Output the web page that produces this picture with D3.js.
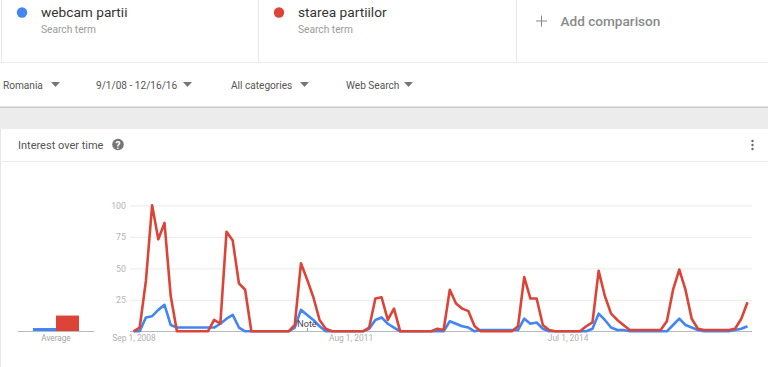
<!DOCTYPE html>
<html><head><meta charset="utf-8">
<script src="https://cdn.jsdelivr.net/npm/d3@7/dist/d3.min.js"></script>
<style>
html,body{margin:0;padding:0;background:#fff;overflow:hidden}
svg{display:block;font-family:Roboto,sans-serif}
</style></head><body><svg id="c" width="768" height="367"></svg>
<script>
const webcam=[0,0,11,12,17,21,5,3,3,3,3,3,3,3,6,10,13,3,0,0,0,0,0,0,0,0,3,17,13,9,4,0,0,0,0,0,0,0,2,9,11,6,3,0,0,0,0,0,0,0,0,8,6,4,3,0,1,1,1,1,1,1,1,10,6,7,2,0,0,0,0,0,0,0,2,14,9,3,1,1,0,0,0,0,0,0,0,5,10,5,3,1,0,0,0,0,0,1,2,4];
const starea=[0,3,40,100,73,86,28,0,0,0,0,0,0,9,6,79,72,38,33,0,0,0,0,0,0,0,5,54,41,27,9,2,0,0,0,0,0,0,3,26,27,9,18,0,0,0,0,0,0,2,1,33,22,18,16,4,0,0,0,0,0,0,4,43,26,26,5,1,0,0,0,0,0,4,7,48,28,14,9,5,1,1,1,1,1,1,8,33,49,33,10,2,1,1,1,1,1,2,10,23];
const xLabels={0:"Sep 1, 2008",35:"Aug 1, 2011",70:"Jul 1, 2014"};
const yTicks=[25,50,75,100];
const averages=[{name:"webcam partii",v:2.6,c:"#4285f4"},{name:"starea partiilor",v:12.5,c:"#db4437"}];
const terms=[{name:"webcam partii",c:"#4285f4",tx:41,dx:22},{name:"starea partiilor",c:"#db4437",tx:298,dx:279}];
const filters=[["Romania",3,52],["9/1/08 - 12/16/16",96,184],["All categories",231,301],["Web Search",346,405]];

const svg=d3.select("#c");
const txt=(s,x,y,size,fill,anchor)=>svg.append("text").attr("x",x).attr("y",y).attr("font-size",size).attr("fill",fill).attr("text-anchor",anchor||"start").text(s);
const rect=(x,y,w,h,f)=>svg.append("rect").attr("x",x).attr("y",y).attr("width",w).attr("height",h).attr("fill",f);

// header cards
rect(1,0,1,62,"#e8e8e8");rect(258,0,1,62,"#e8e8e8");rect(516,0,1,62,"#e8e8e8");rect(0,62,768,1,"#eaeaea");
terms.forEach(t=>{
  svg.append("circle").attr("cx",t.dx).attr("cy",12.5).attr("r",5.2).attr("fill",t.c);
  txt(t.name,t.tx,17,13.7,"#333");
  txt("Search term",t.tx,32.5,10.2,"#9a9a9a");
});
rect(536,20.5,11,1,"#888");rect(541,15.5,1,11,"#888");
txt("Add comparison",560.5,26,13.6,"#8a8a8a").attr("font-weight",500);

// filter row
filters.forEach(f=>{
  txt(f[0],f[1],89,10.1,"#555");
  svg.append("path").attr("d",`M${f[2]-1} 82 h9 l-4.5 5 z`).attr("fill","#777");
});
rect(0,106.5,768,1.5,"#c9c9c9");
rect(0,108,768,21,"#ececec");
rect(0,129,1,238,"#e6e6e6");
rect(0,161,768,1,"#ececec");
txt("Interest over time",18,149,11,"#555");
svg.append("circle").attr("cx",118).attr("cy",144.5).attr("r",5.8).attr("fill","#757575");
txt("?",118,148.5,10,"#fff","middle").attr("font-weight",700);
[-4,0,4].forEach(d=>svg.append("circle").attr("cx",752.5).attr("cy",145+d).attr("r",1.2).attr("fill","#666"));

// chart
const x=d3.scalePoint().domain(d3.range(starea.length)).range([133.5,747.5]);
const y=d3.scaleLinear().domain([0,100]).range([331.3,205.3]);
const yAxis=d3.axisLeft(y).tickValues(yTicks).tickSize(-622).tickFormat(d3.format("d"));
const gy=svg.append("g").attr("transform","translate(130,0)").call(yAxis);
gy.select(".domain").remove();
gy.selectAll("line").attr("stroke","#eeeeee").attr("stroke-width",1.2);
gy.selectAll("text").attr("x",-4).attr("dy","0.32em").attr("font-size",8.8).attr("font-family","Roboto").attr("fill","#b5b5b5").attr("text-anchor","end");

const xAxis=d3.axisBottom(x).tickValues(Object.keys(xLabels).map(Number)).tickSize(0).tickFormat(d=>xLabels[d]);
const gx=svg.append("g").attr("transform","translate(0,331.3)").call(xAxis);
gx.select(".domain").remove();
gx.selectAll("text").attr("y",3.5).attr("dy","0.71em").attr("font-size",8.4).attr("font-family","Roboto").attr("fill","#b0b0b0");
rect(130,331,622,1,"#b9b9b9");

const line=d3.line().x((d,i)=>x(i)).y(d=>y(d));
[[webcam,"#4285f4"],[starea,"#db4437"]].forEach(([s,c])=>{
  svg.append("path").datum(s).attr("d",line).attr("fill","none").attr("stroke",c).attr("stroke-width",2.6).attr("stroke-linejoin","round");
});

// note
rect(307,328,1,3,"#999");
txt("Note",307,327,9,"#444","middle");

// average bars
const xa=d3.scaleBand().domain(averages.map(d=>d.name)).range([33,79]);
svg.selectAll(".avg").data(averages).join("rect").attr("class","avg")
  .attr("x",d=>xa(d.name)).attr("width",xa.bandwidth())
  .attr("y",d=>y(d.v)).attr("height",d=>y(0)-y(d.v)).attr("fill",d=>d.c);
rect(18,331,76,1,"#b9b9b9");
txt("Average",56,341,8.2,"#a5a5a5","middle");
</script></body></html>
